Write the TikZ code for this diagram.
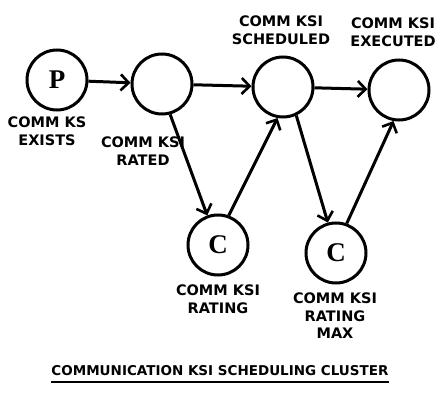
\documentclass[tikz,border=0pt]{standalone}
\usepackage{fontspec}
\newfontfamily\lblfont{DejaVu Sans}[BoldFont={DejaVu Sans Bold}]
\newfontfamily\letterfont{Liberation Serif}[BoldFont={Liberation Serif Bold}]
\usetikzlibrary{arrows.meta}
\begin{document}
\begin{tikzpicture}[x=1pt,y=-1pt,
  state/.style={circle,draw,line width=3pt,minimum size=60pt,inner sep=0pt,
    font=\letterfont\bfseries\fontsize{27}{27}\selectfont},
  lbl/.style={align=center,inner sep=0pt,font=\lblfont\bfseries\fontsize{14.5}{17.5}\selectfont},
  flow/.style={line width=3pt,-{Straight Barb[length=8pt,width=16pt,line width=2.6pt]}}]
\useasboundingbox (0,0) rectangle (440,393);
% states
\node[state] (p)  at (57,80)  {P};
\node[state] (r)  at (162,84) {};
\node[state] (s)  at (283,87) {};
\node[state] (e)  at (399,90) {};
\node[state] (c1) at (218,245) {C};
\node[state] (c2) at (336,253) {C};
% state labels
\node[lbl] (lp)  at (47,131)  {COMM KS\\EXISTS};
\node[lbl] (lr)  at (143,151) {COMM KSI\\RATED};
\node[lbl] (ls)  at (281,30)  {COMM KSI\\SCHEDULED};
\node[lbl] (le)  at (393,32)  {COMM KSI\\EXECUTED};
\node[lbl] (lc1) at (218,299) {COMM KSI\\RATING};
\node[lbl] (lc2) at (335,316) {COMM KSI\\RATING\\MAX};
% transitions
\draw[flow] (p) -- (r);
\draw[flow] (r) -- (s);
\draw[flow] (s) -- (e);
\draw[flow] (r.-75) -- (c1.110);
\draw[flow] (c1.70) -- (s.-100);
\draw[flow] (s.-65) -- (c2.105);
\draw[flow] (c2.70) -- (e.-100);
% caption
\node[lbl,font=\lblfont\bfseries\fontsize{13.5}{15}\selectfont] (title) at (220,371)
  {COMMUNICATION KSI SCHEDULING CLUSTER};
\draw[line width=2pt] (title.south west) ++(0,6) coordinate (ul) -- (title.south east |- ul);
\end{tikzpicture}
\end{document}
